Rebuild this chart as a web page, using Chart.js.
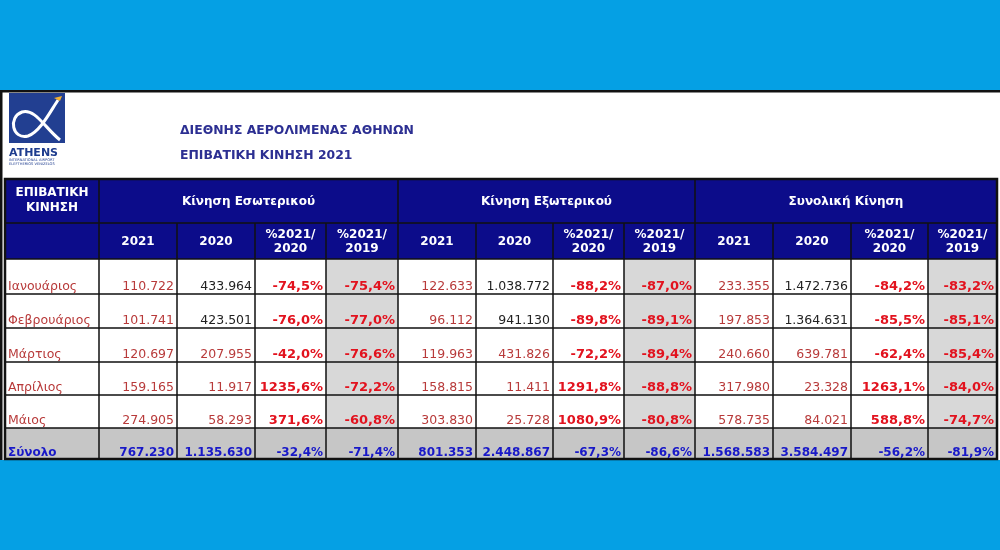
<!DOCTYPE html>
<html>
<head>
<meta charset="utf-8">
<script src="https://cdn.jsdelivr.net/npm/chart.js@4.4.1/dist/chart.umd.min.js"></script>
<style>
  html, body { margin: 0; padding: 0; background: #05a0e4; }
  #wrap { width: 1000px; height: 550px; position: relative; }
</style>
</head>
<body>
<div id="wrap"><canvas id="passengerTable"></canvas></div>
<script>
const months = ['Ιανουάριος', 'Φεβρουάριος', 'Μάρτιος', 'Απρίλιος', 'Μάιος'];
const totalLabel = 'Σύνολο';
const groups = ['Κίνηση Εσωτερικού', 'Κίνηση Εξωτερικού', 'Συνολική Κίνηση'];
const subHeaders = [['2021'], ['2020'], ['%2021/', '2020'], ['%2021/', '2019']];

const domestic2021 = [110722, 101741, 120697, 159165, 274905];
const domestic2020 = [433964, 423501, 207955, 11917, 58293];
const domesticPct2020 = [-74.5, -76.0, -42.0, 1235.6, 371.6];
const domesticPct2019 = [-75.4, -77.0, -76.6, -72.2, -60.8];

const intl2021 = [122633, 96112, 119963, 158815, 303830];
const intl2020 = [1038772, 941130, 431826, 11411, 25728];
const intlPct2020 = [-88.2, -89.8, -72.2, 1291.8, 1080.9];
const intlPct2019 = [-87.0, -89.1, -89.4, -88.8, -80.8];

const total2021 = [233355, 197853, 240660, 317980, 578735];
const total2020 = [1472736, 1364631, 639781, 23328, 84021];
const totalPct2020 = [-84.2, -85.5, -62.4, 1263.1, 588.8];
const totalPct2019 = [-83.2, -85.1, -85.4, -84.0, -74.7];

const sumDomestic = [767230, 1135630, -32.4, -71.4];
const sumIntl = [801353, 2448867, -67.3, -86.6];
const sumTotal = [1568583, 3584497, -56.2, -81.9];

// --- layout (column / row sizes in scale units) ---
const colWidths = [94, 78, 78, 71, 72, 78, 77, 71, 71, 78, 78, 77, 69];
const rowHeights = [44, 36, 35, 34, 34, 33, 33, 31];

const colEdges = [0];
colWidths.forEach(w => colEdges.push(colEdges[colEdges.length - 1] + w));
const rowEdges = [0];
rowHeights.forEach(h => rowEdges.push(rowEdges[rowEdges.length - 1] + h));

const series = [
  [domestic2021, domestic2020, domesticPct2020, domesticPct2019],
  [intl2021, intl2020, intlPct2020, intlPct2019],
  [total2021, total2020, totalPct2020, totalPct2019]
];
const sums = [sumDomestic, sumIntl, sumTotal];

function fmtInt(n) {
  return String(n).replace(/\B(?=(\d{3})+(?!\d))/g, '.');
}
function fmtPct(p) {
  return p.toFixed(1).replace('.', ',') + '%';
}

const FONT = '"DejaVu Sans", Verdana, sans-serif';
const NAVY = '#0c0c8a';
const DARKRED = '#b83a3a';
const RED = '#e2121e';
const BLUE = '#1818c8';

function drawLogo(c) {
  c.save();
  c.fillStyle = '#223f91';
  c.fillRect(9, 93, 56, 50);
  c.strokeStyle = '#fff';
  c.lineWidth = 3;
  c.beginPath();
  c.moveTo(60, 140);
  c.bezierCurveTo(45, 128, 35, 108, 22, 112);
  c.bezierCurveTo(8, 117, 12, 140, 28, 136);
  c.bezierCurveTo(40, 132, 50, 112, 58, 100);
  c.stroke();
  c.fillStyle = '#f2b134';
  c.beginPath();
  c.moveTo(54, 98); c.lineTo(62, 96); c.lineTo(60, 101); c.closePath();
  c.fill();
  c.fillStyle = '#1e3c8e';
  c.font = 'bold 11px ' + FONT;
  c.textAlign = 'left';
  c.textBaseline = 'alphabetic';
  c.fillText('ATHENS', 9, 156);
  c.font = '3.6px ' + FONT;
  c.fillText('INTERNATIONAL AIRPORT', 9, 160.5);
  c.fillText('ELEFTHERIOS VENIZELOS', 9, 165);
  c.restore();
}

const tablePlugin = {
  id: 'passengerTable',
  beforeDraw(chart) {
    const c = chart.ctx;
    c.save();
    c.fillStyle = '#05a0e4';
    c.fillRect(0, 0, chart.width, chart.height);
    c.fillStyle = '#ffffff';
    c.fillRect(0, 90, chart.width, 370);
    c.fillStyle = '#111';
    c.fillRect(0, 90, chart.width, 2.5);
    c.fillRect(0, 90, 2.5, 370);
    c.restore();
    drawLogo(c);
    c.save();
    c.fillStyle = '#2c2f92';
    c.font = 'bold 12.4px ' + FONT;
    c.textBaseline = 'middle';
    c.textAlign = 'left';
    c.fillText('ΔΙΕΘΝΗΣ ΑΕΡΟΛΙΜΕΝΑΣ ΑΘΗΝΩΝ', 180, 131);
    c.fillText('ΕΠΙΒΑΤΙΚΗ ΚΙΝΗΣΗ 2021', 180, 156);
    c.restore();
  },
  afterDraw(chart) {
    const c = chart.ctx;
    const xs = chart.scales.x, ys = chart.scales.y;
    const X = i => xs.getPixelForValue(colEdges[i]);
    const Y = i => ys.getPixelForValue(rowEdges[i]);
    const nCols = colWidths.length, nRows = rowHeights.length;
    c.save();

    // backgrounds
    c.fillStyle = NAVY;
    c.fillRect(X(0), Y(0), X(nCols) - X(0), Y(2) - Y(0));
    for (let r = 2; r < nRows; r++) {
      for (let k = 0; k < nCols; k++) {
        let bg = '#ffffff';
        if (r === nRows - 1) bg = '#c6c6c6';
        else if (k > 0 && (k - 1) % 4 === 3) bg = '#d8d8d8';
        c.fillStyle = bg;
        c.fillRect(X(k), Y(r), X(k + 1) - X(k), Y(r + 1) - Y(r));
      }
    }

    // grid lines
    c.strokeStyle = '#111';
    c.lineWidth = 1.5;
    c.beginPath();
    for (let r = 1; r < nRows; r++) {
      c.moveTo(X(0), Y(r)); c.lineTo(X(nCols), Y(r));
    }
    for (let k = 1; k < nCols; k++) {
      const top = (k - 1) % 4 === 0 ? Y(0) : Y(1);
      c.moveTo(X(k), top); c.lineTo(X(k), Y(nRows));
    }
    c.stroke();
    c.lineWidth = 2.5;
    c.strokeRect(X(0), Y(0), X(nCols) - X(0), Y(nRows) - Y(0));

    // header text
    c.fillStyle = '#ffffff';
    c.font = 'bold 12px ' + FONT;
    c.textAlign = 'center';
    c.textBaseline = 'middle';
    const c0 = (X(0) + X(1)) / 2;
    c.fillText('ΕΠΙΒΑΤΙΚΗ', c0, Y(0) + 14);
    c.fillText('ΚΙΝΗΣΗ', c0, Y(0) + 29);
    groups.forEach((g, gi) => {
      const a = X(1 + gi * 4), b = X(5 + gi * 4);
      c.fillText(g, (a + b) / 2, (Y(0) + Y(1)) / 2 + 1);
      subHeaders.forEach((lines, si) => {
        const k = 1 + gi * 4 + si;
        const cx = (X(k) + X(k + 1)) / 2;
        const cy = (Y(1) + Y(2)) / 2 + 1;
        if (lines.length === 1) c.fillText(lines[0], cx, cy);
        else {
          c.fillText(lines[0], cx, cy - 7);
          c.fillText(lines[1], cx, cy + 7);
        }
      });
    });

    // body
    c.textBaseline = 'alphabetic';
    months.forEach((m, i) => {
      const base = Y(i + 3) - 4;
      c.textAlign = 'left';
      c.fillStyle = DARKRED;
      c.font = '12.5px ' + FONT;
      c.fillText(m, X(0) + 3, base);
      series.forEach((grp, gi) => {
        grp.forEach((arr, si) => {
          const k = 1 + gi * 4 + si;
          c.textAlign = 'right';
          if (si < 2) {
            c.font = '12.5px ' + FONT;
            c.fillStyle = (si === 1 && i < 2) ? '#222222' : DARKRED;
            c.fillText(fmtInt(arr[i]), X(k + 1) - 3, base);
          } else {
            c.font = 'bold 13px ' + FONT;
            c.fillStyle = RED;
            c.fillText(fmtPct(arr[i]), X(k + 1) - 3, base);
          }
        });
      });
    });

    // total row
    const tb = Y(nRows) - 3.5;
    c.fillStyle = BLUE;
    c.font = 'bold 12px ' + FONT;
    c.textAlign = 'left';
    c.fillText(totalLabel, X(0) + 3, tb);
    c.textAlign = 'right';
    sums.forEach((vals, gi) => {
      vals.forEach((v, si) => {
        const k = 1 + gi * 4 + si;
        c.fillText(si < 2 ? fmtInt(v) : fmtPct(v), X(k + 1) - 3, tb);
      });
    });
    c.restore();
  }
};

new Chart(document.getElementById('passengerTable'), {
  type: 'scatter',
  data: { datasets: [] },
  options: {
    responsive: true,
    maintainAspectRatio: false,
    animation: false,
    layout: { padding: { left: 5, right: 3, top: 179, bottom: 91 } },
    plugins: { legend: { display: false }, tooltip: { enabled: false } },
    scales: {
      x: { type: 'linear', display: false, min: 0, max: colEdges[colEdges.length - 1] },
      y: { type: 'linear', display: false, reverse: true, min: 0, max: rowEdges[rowEdges.length - 1] }
    }
  },
  plugins: [tablePlugin]
});
</script>
</body>
</html>
